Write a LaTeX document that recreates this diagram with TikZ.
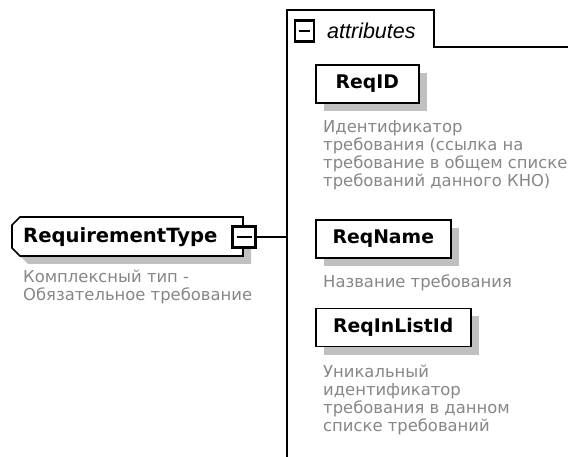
\documentclass[tikz,border=0pt]{standalone}
\usepackage{fontspec}
\setmainfont{DejaVu Sans}
\newfontfamily\arialfont{Liberation Sans}
\usetikzlibrary{shadows}
\definecolor{descgray}{RGB}{135,135,135}
\definecolor{shadowgray}{RGB}{192,192,192}
\tikzset{
  attrbox/.style={draw=black, line width=1.6pt, fill=white, anchor=west,
    minimum height=38pt, inner sep=0pt,
    font=\fontsize{18.8}{20}\selectfont\bfseries,
    general shadow={fill=shadowgray, shadow xshift=8pt, shadow yshift=-8pt}},
  desc/.style={anchor=north west, inner sep=0pt, align=left, text=descgray,
    font=\fontsize{16.4}{18}\selectfont},
  minusbox/.style={draw=black, line width=2.6pt, fill=white, inner sep=0pt,
    path picture={\draw[line width=1.5pt]
      ([xshift=4pt]path picture bounding box.west) --
      ([xshift=-4pt]path picture bounding box.east);}},
  conn/.style={draw=black, line width=1.6pt},
}
\begin{document}
\begin{tikzpicture}[x=1pt,y=-1pt]
\useasboundingbox[fill=white] (0,0) rectangle (568,457);
% main complex type box
\begin{scope}[shift={(8,8)}]
  \fill[shadowgray] (20,217) -- (243,217) -- (243,256) -- (20,256) -- (12,248) -- (12,225) -- cycle;
\end{scope}
\draw[line width=1.6pt, fill=white] (20,217) -- (243,217) -- (243,256) -- (20,256) -- (12,248) -- (12,225) -- cycle;
\node (rt) [anchor=base west, inner sep=0pt, font=\fontsize{19.6}{21}\selectfont\bfseries] at (23,242.5) {RequirementType};
\node (rtmin) [minusbox, minimum width=23pt, minimum height=21pt] at (244,237) {};
\node (rtdesc) [desc] at (23,270) {Комплексный тип -\\Обязательное требование};
% attributes frame
\draw[line width=1.6pt] (287,457) -- (287,10) -- (434,10) -- (434,47) -- (568,47);
\coordinate (join) at (287,237);
\draw[conn] (rtmin) -- (join);
\node (atmin) [minusbox, minimum width=19pt, minimum height=21pt] at (304.5,31) {};
\node (attrlabel) [anchor=west, inner sep=0pt, font={\arialfont\itshape\fontsize{21.5}{23}\selectfont}] at (327,31) {attributes};
% attributes
\node (reqid) [attrbox, minimum width=103pt] at (315,84) {ReqID};
\node (reqiddesc) [desc] at (323,120) {Идентификатор\\требования (ссылка на\\требование в общем списке\\требований данного КНО)};
\node (reqname) [attrbox, minimum width=135pt] at (315,239) {ReqName};
\node (reqnamedesc) [desc] at (323,275) {Название требования};
\node (reqinl) [attrbox, minimum width=155pt] at (315,327.5) {ReqInListId};
\node (reqinldesc) [desc] at (323,364.5) {Уникальный\\идентификатор\\требования в данном\\списке требований};
\end{tikzpicture}
\end{document}
